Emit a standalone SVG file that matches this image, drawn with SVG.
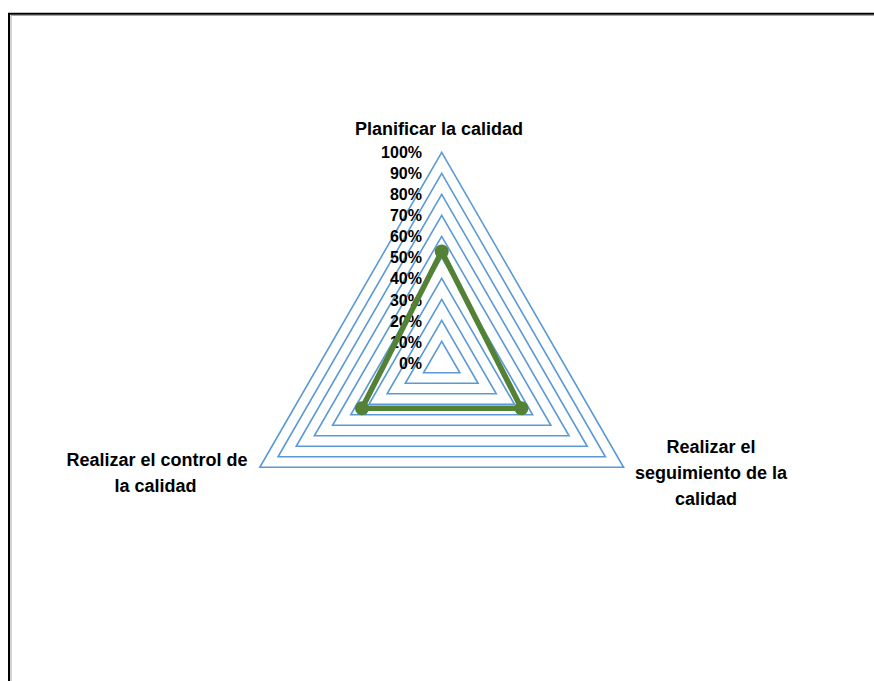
<svg xmlns="http://www.w3.org/2000/svg" width="874" height="681" viewBox="0 0 874 681">
  <style>
    .ring { fill: none; stroke: #5B9BD5; stroke-width: 1.6; stroke-linejoin: miter; }
    .series { fill: none; stroke: #538135; stroke-width: 5.5; stroke-linejoin: round; }
    .dot { fill: #538135; }
    .tick { font-family: "Liberation Sans", Arial, sans-serif; font-weight: bold; font-size: 16px; fill: #000; text-anchor: end; }
    .cat { font-family: "Liberation Sans", Arial, sans-serif; font-weight: bold; font-size: 18px; fill: #000; text-anchor: middle; }
  </style>

  <rect x="0" y="0" width="874" height="681" fill="#ffffff"/>

  <!-- chart frame (top and left edges) -->
  <g id="frame">
    <path d="M11,681 V15.5 H874" fill="none" stroke="#a6a6a6" stroke-width="1"/>
    <path d="M9,681 V13.7 H874" fill="none" stroke="#000" stroke-width="2"/>
  </g>

  <!-- radar grid: 10% .. 100% -->
  <g id="grid">
    <polygon class="ring" points="441.7,341.3 459.89,372.8 423.51,372.8"/>
    <polygon class="ring" points="441.7,320.3 478.07,383.3 405.33,383.3"/>
    <polygon class="ring" points="441.7,299.3 496.26,393.8 387.14,393.8"/>
    <polygon class="ring" points="441.7,278.3 514.45,404.3 368.95,404.3"/>
    <polygon class="ring" points="441.7,257.3 532.63,414.8 350.77,414.8"/>
    <polygon class="ring" points="441.7,236.3 550.82,425.3 332.58,425.3"/>
    <polygon class="ring" points="441.7,215.3 569.01,435.8 314.39,435.8"/>
    <polygon class="ring" points="441.7,194.3 587.19,446.3 296.21,446.3"/>
    <polygon class="ring" points="441.7,173.3 605.38,456.8 278.02,456.8"/>
    <polygon class="ring" points="441.7,152.3 623.57,467.3 259.83,467.3"/>
  </g>

  <!-- value axis labels -->
  <g id="axis-labels">
    <text class="tick" x="422" y="157.8">100%</text>
    <text class="tick" x="422" y="178.9">90%</text>
    <text class="tick" x="422" y="200">80%</text>
    <text class="tick" x="422" y="221.1">70%</text>
    <text class="tick" x="422" y="242.2">60%</text>
    <text class="tick" x="422" y="263.3">50%</text>
    <text class="tick" x="422" y="284.4">40%</text>
    <text class="tick" x="422" y="305.5">30%</text>
    <text class="tick" x="422" y="326.6">20%</text>
    <text class="tick" x="422" y="347.7">10%</text>
    <text class="tick" x="422" y="368.8">0%</text>
  </g>

  <!-- data series -->
  <g id="series">
    <polygon class="series" points="441.7,251.5 521.4,408.3 362,408.3"/>
    <circle class="dot" cx="441.7" cy="251.5" r="7"/>
    <circle class="dot" cx="521.4" cy="408.3" r="7"/>
    <circle class="dot" cx="362" cy="408.3" r="7"/>
  </g>

  <!-- category labels -->
  <g id="cat-planificar">
    <text class="cat" x="439" y="135">Planificar la calidad</text>
  </g>
  <g id="cat-seguimiento">
    <text class="cat" x="711" y="453">Realizar el</text>
    <text class="cat" x="711" y="479">seguimiento de la</text>
    <text class="cat" x="706" y="505">calidad</text>
  </g>
  <g id="cat-control">
    <text class="cat" x="157" y="466">Realizar el control de</text>
    <text class="cat" x="155.5" y="492">la calidad</text>
  </g>
</svg>
